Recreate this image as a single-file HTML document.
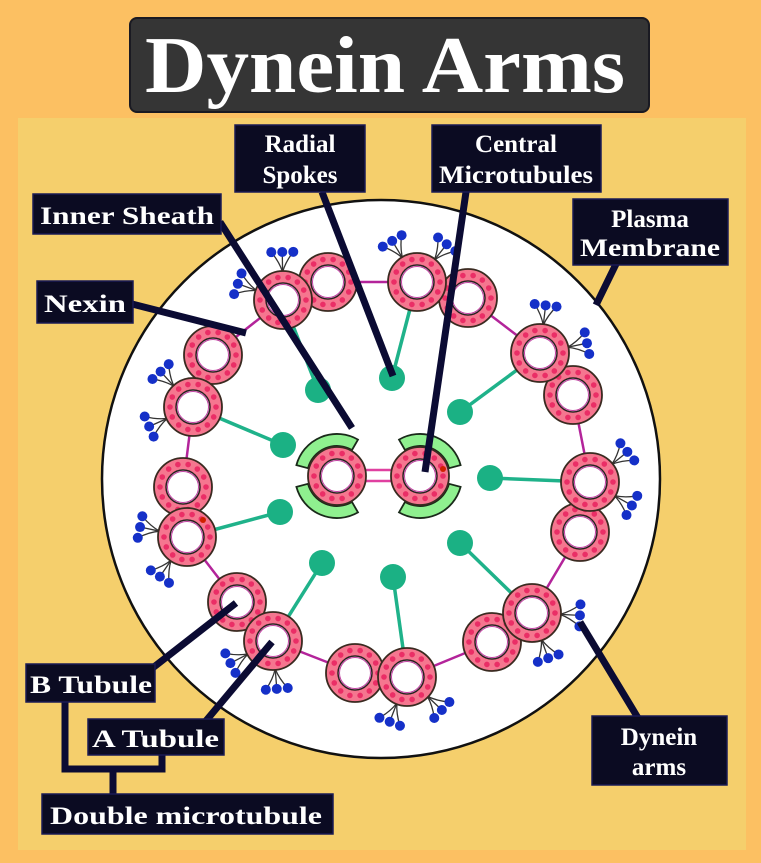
<!DOCTYPE html>
<html><head><meta charset="utf-8"><style>
html,body{margin:0;padding:0;background:#fcc062;}
svg{display:block;}
text{font-family:"Liberation Serif",serif;font-weight:bold;fill:#fff;}
</style></head><body>
<svg id="s" width="761" height="863" viewBox="0 0 761 863" xmlns="http://www.w3.org/2000/svg">
<rect x="0" y="0" width="761" height="863" fill="#fcc062"/>
<rect x="18" y="118" width="728" height="732" fill="#f5cf6c"/>
<rect x="130" y="18" width="519" height="94" rx="7" fill="#353535" stroke="#1a1a22" stroke-width="2"/>
<text x="145" y="92" font-size="80" textLength="480" lengthAdjust="spacingAndGlyphs">Dynein Arms</text>
<circle cx="381" cy="479" r="279" fill="#fff" stroke="#111" stroke-width="2.5"/>
<g id="g"></g>
<g id="lab" stroke="#0b0b33" stroke-width="7" stroke-linecap="butt" fill="none">
<line x1="322" y1="192" x2="393" y2="376"/>
<line x1="466" y1="192" x2="425" y2="472"/>
<line x1="220" y1="222" x2="352" y2="428"/>
<line x1="132" y1="304" x2="246" y2="333"/>
<line x1="617" y1="262" x2="596" y2="305"/>
<line x1="638" y1="718" x2="580" y2="622"/>
<line x1="150" y1="670" x2="236" y2="603"/>
<line x1="205" y1="722" x2="272" y2="642"/>
<polyline points="65,700 65,769 162,769 162,752"/>
<line x1="113" y1="769" x2="113" y2="796"/>
</g>
<g fill="#0b0b22" stroke="#1b1b55" stroke-width="1.5">
<rect x="235" y="125" width="130" height="67"/>
<rect x="432" y="125" width="169" height="67"/>
<rect x="33" y="194" width="188" height="40"/>
<rect x="573" y="199" width="155" height="66"/>
<rect x="37" y="281" width="96" height="42"/>
<rect x="26" y="664" width="129" height="38"/>
<rect x="88" y="719" width="136" height="36"/>
<rect x="42" y="794" width="291" height="40"/>
<rect x="592" y="716" width="135" height="69"/>
</g>
<g font-size="25">
<text x="300" y="152" text-anchor="middle">Radial</text>
<text x="300" y="183" text-anchor="middle">Spokes</text>
<text x="516" y="152" text-anchor="middle">Central</text>
<text x="516" y="183" text-anchor="middle" textLength="154" lengthAdjust="spacingAndGlyphs">Microtubules</text>
<text x="40" y="224" textLength="174" lengthAdjust="spacingAndGlyphs">Inner Sheath</text>
<text x="650" y="227" text-anchor="middle">Plasma</text>
<text x="650" y="256" text-anchor="middle" textLength="140" lengthAdjust="spacingAndGlyphs">Membrane</text>
<text x="44" y="312" textLength="82" lengthAdjust="spacingAndGlyphs">Nexin</text>
<text x="30" y="693" textLength="122" lengthAdjust="spacingAndGlyphs">B Tubule</text>
<text x="92" y="747" textLength="127" lengthAdjust="spacingAndGlyphs">A Tubule</text>
<text x="50" y="824" textLength="272" lengthAdjust="spacingAndGlyphs">Double microtubule</text>
<text x="659" y="745" text-anchor="middle">Dynein</text>
<text x="659" y="775" text-anchor="middle">arms</text>
</g>
</svg>
<script>
(function(){
var NS="http://www.w3.org/2000/svg",g=document.getElementById('g'),s=document.getElementById('s');
function el(t,a,p){var e=document.createElementNS(NS,t);for(var k in a)e.setAttribute(k,a[k]);(p||g).appendChild(e);return e;}
var C=[381,479];
var D=[[[417,282],[468,298]],[[540,353],[573,395]],[[590,482],[580,532]],[[532,613],[492,642]],[[407,677],[355,673]],[[273,641],[237,602]],[[187,537],[183,487]],[[193,407],[213,355]],[[283,300],[328,282]]];
var H=[[392,378],[460,412],[490,478],[460,543],[393,577],[322,563],[280,512],[283,445],[318,390]];
var gLines=el('g',{});
// nexin links
for(var i=0;i<9;i++){var b=D[i][1],a=D[(i+1)%9][0];el('line',{x1:b[0],y1:b[1],x2:a[0],y2:a[1],stroke:'#b3249a','stroke-width':2.5},gLines);}
// spokes
for(var i=0;i<9;i++){var a=D[i][0],h=H[i];el('line',{x1:a[0],y1:a[1],x2:h[0],y2:h[1],stroke:'#1fb28a','stroke-width':3.5},gLines);el('circle',{cx:h[0],cy:h[1],r:13,fill:'#1bb184'},gLines);}
// dynein arms
for(var i=0;i<9;i++){var a=D[i][0],b=D[i][1];
 var ox=a[0]-C[0],oy=a[1]-C[1],L=Math.hypot(ox,oy);ox/=L;oy/=L;
 var tx=a[0]-b[0],ty=a[1]-b[1],T=Math.hypot(tx,ty);tx/=T;ty/=T;
 var bases=[[0.55,0.85],[-0.1,1]]; // (tangent, outward) weights
 var sets=[[ox*0.7+tx*0.7,oy*0.7+ty*0.7],[ox*0.9-tx*0.45,oy*0.9-ty*0.45]];
 sets.forEach(function(d,si){var dl=Math.hypot(d[0],d[1]);var dx=d[0]/dl,dy=d[1]/dl;
  var sx=a[0]+dx*28,sy=a[1]+dy*28;var px=-dy,py=dx;
  for(var k=-1;k<=1;k++){var ex=sx+dx*20+px*k*11,ey=sy+dy*20+py*k*11;
   el('path',{d:'M'+sx+' '+sy+' Q'+(sx+dx*10+px*k*3)+' '+(sy+dy*10+py*k*3)+' '+ex+' '+ey,stroke:'#333',fill:'none','stroke-width':1.3},gLines);
   el('circle',{cx:ex,cy:ey,r:5,fill:'#1530c8'},gLines);}
 });
}
function ring(x,y){
 el('circle',{cx:x,cy:y,r:29,fill:'#f5768f',stroke:'#3a2a20','stroke-width':1.8});
 for(var k=0;k<14;k++){var t=k/14*Math.PI*2;el('circle',{cx:x+Math.cos(t)*23,cy:y+Math.sin(t)*23,r:2.8,fill:'#ea2e66'});}
 el('circle',{cx:x,cy:y,r:17,fill:'#fff',stroke:'#2a2020','stroke-width':1.5});
 el('circle',{cx:x,cy:y,r:15.5,fill:'none',stroke:'#c040a0','stroke-width':1});
}
for(var i=0;i<9;i++){ring(D[i][1][0],D[i][1][1]);ring(D[i][0][0],D[i][0][1]);}
// central apparatus
function arc(cx,cy,r1,r2,a1,a2){var f=function(r,a){a=a*Math.PI/180;return (cx+r*Math.cos(a)).toFixed(1)+' '+(cy+r*Math.sin(a)).toFixed(1);};
 var lg=Math.abs(a2-a1)>180?1:0;
 el('path',{d:'M'+f(r2,a1)+' A'+r2+' '+r2+' 0 '+lg+' 1 '+f(r2,a2)+' L'+f(r1,a2)+' A'+r1+' '+r1+' 0 '+lg+' 0 '+f(r1,a1)+' Z',fill:'#8ff08f',stroke:'#1a2a1a','stroke-width':1.8});}
arc(337,476,30,42,195,300);arc(337,476,30,42,60,165);
arc(420,476,30,42,240,345);arc(420,476,30,42,15,120);
el('line',{x1:360,y1:470,x2:398,y2:470,stroke:'#e040a0','stroke-width':2.5});
el('line',{x1:360,y1:481,x2:398,y2:481,stroke:'#e040a0','stroke-width':2.5});
ring(337,476);ring(420,476);
el('circle',{cx:443,cy:469,r:3,fill:'#d02000'});el('circle',{cx:203,cy:520,r:3,fill:'#d02000'});
})();
</script>
</body></html>
